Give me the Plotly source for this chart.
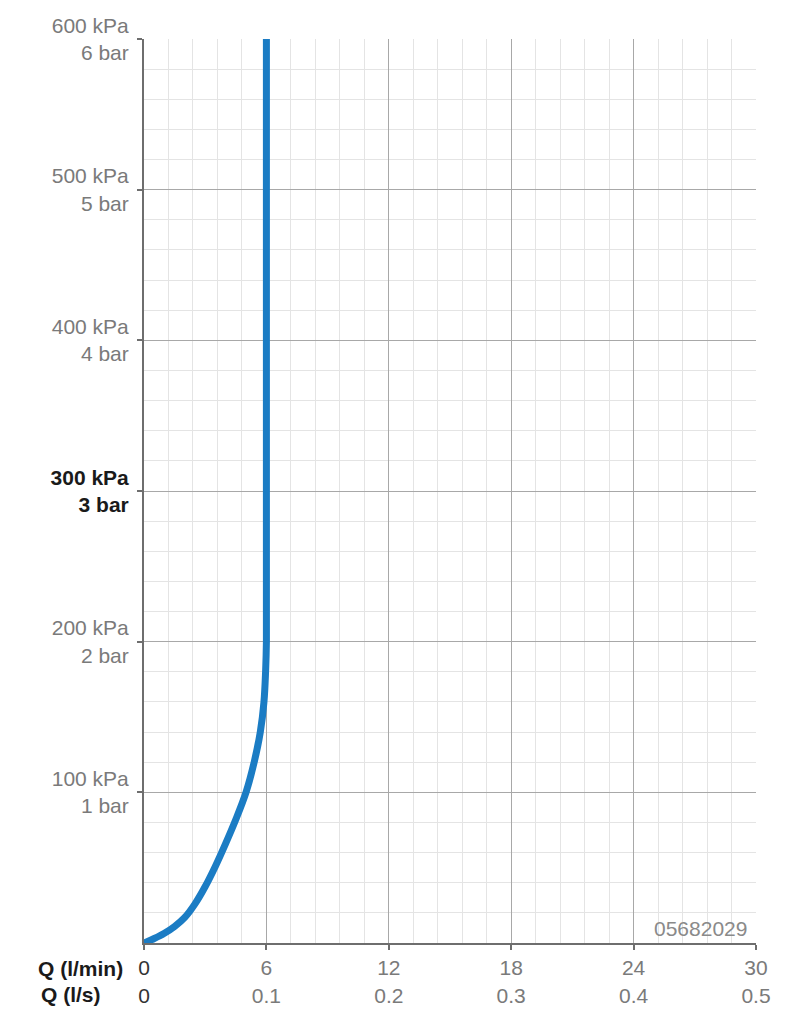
import plotly.graph_objects as go

# Flow (l/min) vs pressure (kPa)
flow_lmin = [0, 0.5, 1.0, 1.5, 2.0, 2.5, 3.0, 3.5, 4.0, 4.5, 5.0, 5.4, 5.7, 5.88, 5.96, 6.0, 6.0]
pressure_kpa = [0, 3, 6.5, 11, 17, 26, 37.5, 51, 66, 82, 100, 120, 140, 160, 180, 200, 600]

x_ticks = [0, 6, 12, 18, 24, 30]
x_lmin_labels = ["0", "6", "12", "18", "24", "30"]
x_ls_labels = ["0", "0.1", "0.2", "0.3", "0.4", "0.5"]

y_ticks = [100, 200, 300, 400, 500, 600]
y_kpa_labels = ["100 kPa", "200 kPa", "300 kPa", "400 kPa", "500 kPa", "600 kPa"]
y_bar_labels = ["1 bar", "2 bar", "3 bar", "4 bar", "5 bar", "6 bar"]
bold_y = 300
code_text = "05682029"

GRAY = "#7a7a7a"
DARK = "#1a1a1a"
FS = 21

x_text = []
for i, (a, b) in enumerate(zip(x_lmin_labels, x_ls_labels)):
    if i == 0:
        x_text.append(f"<span style='color:#333'>{a}</span><br><span style='color:#333'>{b}</span>")
    else:
        x_text.append(f"{a}<br>{b}")

y_text = []
for v, a, b in zip(y_ticks, y_kpa_labels, y_bar_labels):
    if v == bold_y:
        y_text.append(f"<b><span style='color:{DARK}'>{a}</span></b><br><b><span style='color:{DARK}'>{b}</span></b>")
    else:
        y_text.append(f"{a}<br>{b}")

fig = go.Figure()
fig.add_trace(go.Scatter(
    x=flow_lmin, y=pressure_kpa, mode="lines",
    line=dict(color="#1b7cc4", width=7, shape="spline", smoothing=1.0),
    hoverinfo="skip", showlegend=False,
))

# page body has an 8px margin: figure is placed at (8, 8)
fig.update_layout(
    width=781, height=1016,
    margin=dict(l=136, r=33, t=31, b=81, autoexpand=False),
    paper_bgcolor="white", plot_bgcolor="white",
    font=dict(family="Liberation Sans, Arial, sans-serif", size=FS, color=GRAY),
    xaxis=dict(
        range=[0, 30], tickmode="array", tickvals=x_ticks, ticktext=x_text,
        showgrid=True, gridcolor="#a8a8a8", gridwidth=1.2,
        zeroline=False, showline=True, linecolor="#6e6e6e", linewidth=2,
        ticks="outside", ticklen=5, tickcolor="#6e6e6e", tickwidth=1.5,
        minor=dict(dtick=1.2, showgrid=True, gridcolor="#e4e4e4", gridwidth=1, ticks=""),
        tickfont=dict(color=GRAY, size=FS),
        automargin=False, fixedrange=True,
    ),
    yaxis=dict(
        range=[0, 600], tickmode="array", tickvals=y_ticks, ticktext=y_text,
        showgrid=True, gridcolor="#a8a8a8", gridwidth=1.2,
        zeroline=False, showline=True, linecolor="#6e6e6e", linewidth=2,
        ticks="outside", ticklen=5, tickcolor="#6e6e6e", tickwidth=1.5,
        ticklabelstandoff=4,
        minor=dict(dtick=20, showgrid=True, gridcolor="#e4e4e4", gridwidth=1, ticks=""),
        tickfont=dict(color=GRAY, size=FS),
        automargin=False, fixedrange=True,
    ),
)

fig.add_annotation(xref="paper", yref="paper", x=(36 - 144) / 612, y=-(968 - 943) / 904,
                   text="<b>Q (l/min)</b>", showarrow=False, xanchor="left", yanchor="middle",
                   font=dict(color=DARK, size=FS))
fig.add_annotation(xref="paper", yref="paper", x=(39 - 144) / 612, y=-(994 - 943) / 904,
                   text="<b>Q (l/s)</b>", showarrow=False, xanchor="left", yanchor="middle",
                   font=dict(color=DARK, size=FS))
fig.add_annotation(xref="paper", yref="paper", x=(749 - 144) / 612, y=(943 - 928) / 904,
                   text=code_text, showarrow=False, xanchor="right", yanchor="middle",
                   font=dict(color="#8a8a8a", size=FS))

fig.write_html("out.html")
